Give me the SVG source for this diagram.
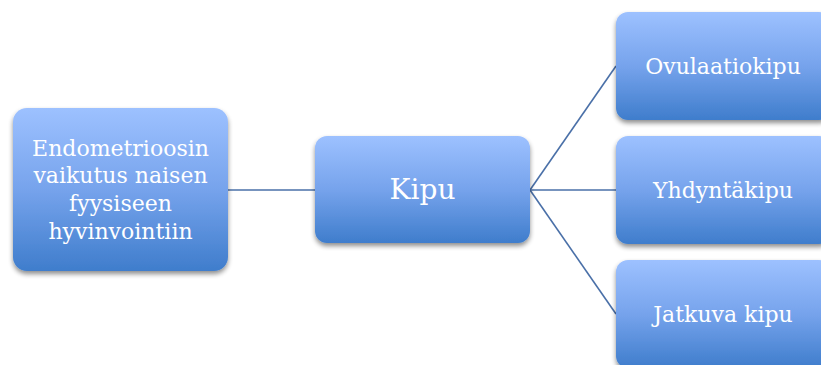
<svg xmlns="http://www.w3.org/2000/svg" width="821" height="365" viewBox="0 0 821 365">
<defs>
<linearGradient id="g" x1="0" y1="0" x2="0" y2="1">
<stop offset="0" stop-color="#9dc1ff"/>
<stop offset="0.5" stop-color="#76a3ec"/>
<stop offset="1" stop-color="#3f7dcc"/>
</linearGradient>
<filter id="sh" x="-10%" y="-10%" width="130%" height="130%">
<feGaussianBlur in="SourceAlpha" stdDeviation="2.5"/>
<feOffset dx="0" dy="3" result="b"/>
<feComponentTransfer><feFuncA type="linear" slope="0.45"/></feComponentTransfer>
<feMerge><feMergeNode/><feMergeNode in="SourceGraphic"/></feMerge>
</filter>
</defs>
<style>
.box{fill:url(#g);filter:url(#sh)}
.t{fill:#fff;font-family:"DejaVu Serif","Liberation Serif",serif;text-anchor:middle}
.c{stroke:#4a70a8;stroke-width:1.6;fill:none}
</style>
<rect width="821" height="365" fill="#fff"/>
<g id="connectors">
<line class="c" x1="228" y1="190" x2="315" y2="190"/>
<line class="c" x1="530" y1="190" x2="616" y2="66"/>
<line class="c" x1="530" y1="190" x2="616" y2="190"/>
<line class="c" x1="530" y1="190" x2="616" y2="314"/>
</g>
<g id="root">
<rect class="box" x="13" y="108" width="215" height="163" rx="14"/>
<text class="t" font-size="22" x="120.5" y="156">Endometrioosin</text>
<text class="t" font-size="22" x="120.5" y="183">vaikutus naisen</text>
<text class="t" font-size="22" x="120.5" y="211">fyysiseen</text>
<text class="t" font-size="22" x="120.5" y="239">hyvinvointiin</text>
</g>
<g id="kipu">
<rect class="box" x="315" y="136" width="215" height="107" rx="12"/>
<text class="t" font-size="28" x="422.5" y="199">Kipu</text>
</g>
<g id="ovulaatiokipu">
<rect class="box" x="616" y="12" width="215" height="108" rx="12"/>
<text class="t" font-size="22" x="723" y="74">Ovulaatiokipu</text>
</g>
<g id="yhdyntakipu">
<rect class="box" x="616" y="136" width="215" height="108" rx="12"/>
<text class="t" font-size="22" x="723" y="198">Yhdyntäkipu</text>
</g>
<g id="jatkuva">
<rect class="box" x="616" y="260" width="215" height="108" rx="12"/>
<text class="t" font-size="22" x="723" y="322">Jatkuva kipu</text>
</g>
</svg>
